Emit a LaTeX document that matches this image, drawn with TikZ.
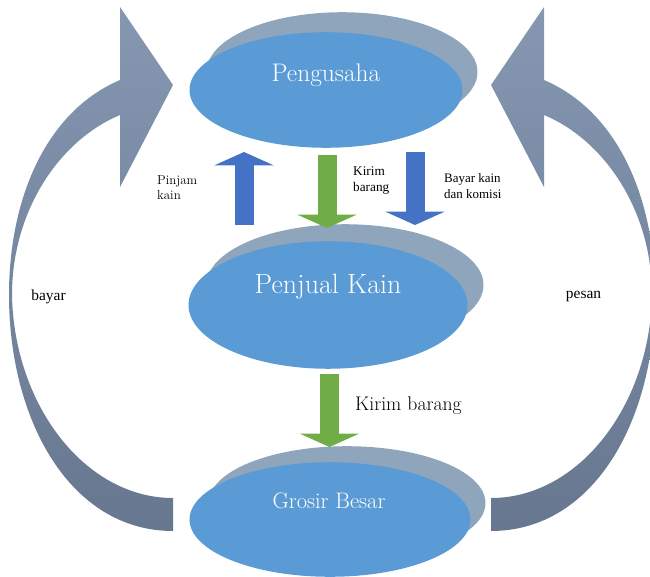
\documentclass[tikz,border=0pt]{standalone}
\usepackage{fontspec}
\newfontfamily\timesfont{Liberation Serif}
\usepackage{tikz}
\usetikzlibrary{shapes.geometric}
\usetikzlibrary{arrows.meta}

\definecolor{ellblue}{HTML}{5B9BD5}
\definecolor{ellgray}{HTML}{8EA5BC}
\definecolor{flowblue}{HTML}{4472C4}
\definecolor{flowgreen}{HTML}{70AD47}
\definecolor{bendtop}{HTML}{8597B1}
\definecolor{bendbot}{HTML}{67778F}

\begin{document}
\begin{tikzpicture}[line cap=round,line join=round,x=1bp,y=-1bp,
    ell/.style={ellipse, fill=ellblue, inner sep=0pt},
    ellback/.style={ellipse, fill=ellgray, inner sep=0pt},
    ellname/.style={text=white, inner sep=0pt},
    lbl/.style={inner sep=0pt, anchor=west, align=left},
    flow/.style={line width=19bp, line cap=butt, -{Triangle[width=60bp,length=13.5bp,line width=0pt]}}]
                        \useasboundingbox (0,0) rectangle (650,577);

                        % big curved arrows (bayar / pesan)
                        \foreach \s/\o in {1/0,-1/664}{
                          \begin{scope}[xshift=\o bp, xscale=\s]
                            \shade[top color=bendtop, bottom color=bendbot] (120,80) -- (120,7) -- (173,85) -- (120,187) -- (120,115)
                              .. controls (60,140) and (12,210) .. (12,295)
                              .. controls (14,405) and (85,498) .. (173,498) -- (173,531)
                              .. controls (70,531) and (9,420) .. (9,295)
                              .. controls (9,200) and (45,112) .. (120,80) -- cycle;
                          \end{scope}
                        }

                        \node[ellback, minimum width=272, minimum height=120] (pengusahaBack) at (342,72) {};
                        \node[ell, minimum width=274, minimum height=116] (pengusaha) at (326,90) {};
                        \node[ellback, minimum width=278, minimum height=122] (penjualBack) at (345,285) {};
                        \node[ell, minimum width=280, minimum height=128] (penjual) at (328,305) {};
                        \node[ellback, minimum width=278, minimum height=114] (grosirBack) at (347,503) {};
                        \node[ell, minimum width=282, minimum height=115] (grosir) at (330,519.5) {};

                        \node[ellname, font=\fontsize{25.5}{30}\selectfont] (pengusahaName) at (326,75) {Pengusaha};
                        \node[ellname, font=\fontsize{28}{33}\selectfont] (penjualName) at (328,287) {Penjual Kain};
                        \node[ellname, font=\fontsize{22.5}{27}\selectfont] (grosirName) at (329,501) {Grosir Besar};

                        \node[lbl, font=\fontsize{13}{15}\selectfont] (pinjam) at (157,188) {Pinjam\\kain};
                        \node[lbl, font=\timesfont\fontsize{13.3}{16}\selectfont] (kirimTop) at (353,181) {Kirim\\barang};
                        \node[lbl, font=\timesfont\fontsize{13}{16}\selectfont] (bayarKain) at (444,186) {Bayar kain\\dan komisi};
                        \node[font=\timesfont\fontsize{15.5}{18}\selectfont] (bayar) at (48.5,297) {bayar};
                        \node[font=\timesfont\fontsize{15.5}{18}\selectfont] (pesan) at (583.5,297) {pesan};
                        \node[lbl, font=\fontsize{19.8}{24}\selectfont] (kirimBottom) at (355,406) {Kirim barang};

                        \coordinate (pinjamFrom) at (244,225);
                        \coordinate (pinjamTo) at (244,152);
                        \coordinate (kirimFrom) at (327,155);
                        \coordinate (kirimTo) at (327,228);
                        \coordinate (bayarFrom) at (415,152);
                        \coordinate (bayarTo) at (415,225);
                        \coordinate (kirimLowFrom) at (329.5,374);
                        \coordinate (kirimLowTo) at (329.5,447);

                        \draw [flow, flowblue] (pinjamFrom) -- (pinjamTo);
                        \draw [flow, flowgreen] (kirimFrom) -- (kirimTo);
                        \draw [flow, flowblue] (bayarFrom) -- (bayarTo);
                        \draw [flow, flowgreen] (kirimLowFrom) -- (kirimLowTo);
                    \end{tikzpicture}
\end{document}
